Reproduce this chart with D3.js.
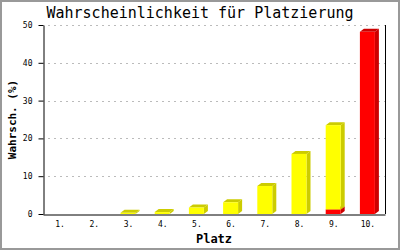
<!DOCTYPE html>
<html>
<head>
<meta charset="utf-8">
<script src="https://cdn.jsdelivr.net/npm/d3@7"></script>
<style>
	body { margin: 0; background: #fff; }
	svg { display: block; }
</style>
</head>
<body>
<div id="chart"></div>
<script>
///////////////////////////////////////////////////////////////////////////
//////////////////////////// data /////////////////////////////////////////
///////////////////////////////////////////////////////////////////////////

const places = ["1.", "2.", "3.", "4.", "5.", "6.", "7.", "8.", "9.", "10."];
// bottom segment (red), top segment (yellow)
const redValues = [0, 0, 0, 0, 0, 0, 0, 0, 1.2, 48.2];
const yellowValues = [0, 0, 0.3, 0.5, 1.7, 3.1, 7.4, 15.9, 22.3, 0];
const yTicks = [0, 10, 20, 30, 40, 50];

///////////////////////////////////////////////////////////////////////////
//////////////////////////// Set up svg ///////////////////////////////////
///////////////////////////////////////////////////////////////////////////

const width = 400;
const height = 250;
const margin = { top: 25, right: 15, bottom: 36, left: 43 };
const depthX = 4;
const depthY = 3;
const mono = "'DejaVu Sans Mono', monospace";

const svg = d3
	.select("#chart")
	.append("svg")
	.attr("width", width)
	.attr("height", height);

svg
	.append("rect")
	.attr("x", 1)
	.attr("y", 1)
	.attr("width", width - 2)
	.attr("height", height - 2)
	.attr("fill", "#fff")
	.attr("stroke", "#999")
	.attr("stroke-width", 2);

///////////////////////////////////////////////////////////////////////////
//////////////////////////// scales ///////////////////////////////////////
///////////////////////////////////////////////////////////////////////////

const xScale = d3
	.scaleBand()
	.domain(places)
	.range([margin.left, width - margin.right]);

const yScale = d3
	.scaleLinear()
	.domain([0, 50])
	.range([height - margin.bottom, margin.top]);

const barW = 15;

// grid
svg
	.append("g")
	.selectAll("line")
	.data(yTicks.filter((d) => d > 0))
	.enter()
	.append("line")
	.attr("x1", margin.left + 5)
	.attr("x2", width - margin.right)
	.attr("y1", (d) => Math.round(yScale(d)) + 0.5)
	.attr("y2", (d) => Math.round(yScale(d)) + 0.5)
	.attr("stroke", "#bbb")
	.attr("stroke-dasharray", "2,4");

///////////////////////////////////////////////////////////////////////////
//////////////////////////// bars /////////////////////////////////////////
///////////////////////////////////////////////////////////////////////////

const segments = [];
places.forEach((p, i) => {
	let base = 0;
	[
		{ v: redValues[i], front: "#ff0000", side: "#cc0000" },
		{ v: yellowValues[i], front: "#ffff00", side: "#cccc00" }
	].forEach((s) => {
		if (s.v > 0) {
			segments.push({ place: p, y0: base, y1: base + s.v, front: s.front, side: s.side });
			base += s.v;
		}
	});
});

const bars = svg.append("g");

segments.forEach((d) => {
	const x0 = xScale(d.place) + xScale.bandwidth() / 2 - barW / 2 - 0.5;
	const x1 = x0 + barW;
	const yb = yScale(d.y0);
	const yt = yScale(d.y1);
	// top face
	bars
		.append("polygon")
		.attr("points", [
			[x0, yt], [x0 + depthX, yt - depthY], [x1 + depthX, yt - depthY], [x1, yt]
		].join(" "))
		.attr("fill", d.side);
	// side face
	bars
		.append("polygon")
		.attr("points", [
			[x1, yt], [x1 + depthX, yt - depthY], [x1 + depthX, yb - depthY], [x1, yb]
		].join(" "))
		.attr("fill", d.side);
	// front
	bars
		.append("rect")
		.attr("x", x0)
		.attr("y", yt)
		.attr("width", barW)
		.attr("height", yb - yt)
		.attr("fill", d.front);
});

///////////////////////////////////////////////////////////////////////////
//////////////////////////// axes /////////////////////////////////////////
///////////////////////////////////////////////////////////////////////////

const yAxis = d3
	.axisLeft(yScale)
	.tickValues(yTicks)
	.tickSize(5)
	.tickSizeOuter(0)
	.tickPadding(6);

svg
	.append("g")
	.attr("transform", "translate(" + (margin.left + 0.5) + ",0)")
	.call(yAxis)
	.call((g) => g.selectAll("text").attr("font-family", mono).attr("font-size", 8).attr("fill", "#000"));

const xAxis = d3.axisBottom(xScale).tickSize(0).tickPadding(7);

svg
	.append("g")
	.attr("transform", "translate(0," + (yScale(0) + 0.5) + ")")
	.call(xAxis)
	.call((g) => g.selectAll("text").attr("font-family", mono).attr("font-size", 8).attr("fill", "#000"));

// right frame line
svg
	.append("line")
	.attr("x1", width - margin.right + 0.5)
	.attr("x2", width - margin.right + 0.5)
	.attr("y1", margin.top)
	.attr("y2", yScale(0))
	.attr("stroke", "#000");

///////////////////////////////////////////////////////////////////////////
//////////////////////////// labels ///////////////////////////////////////
///////////////////////////////////////////////////////////////////////////

svg
	.append("text")
	.attr("x", width / 2)
	.attr("y", 18)
	.attr("text-anchor", "middle")
	.attr("font-family", mono)
	.attr("font-size", 15)
	.text("Wahrscheinlichkeit für Platzierung");

svg
	.append("text")
	.attr("x", (margin.left + width - margin.right) / 2)
	.attr("y", 243)
	.attr("text-anchor", "middle")
	.attr("font-family", mono)
	.attr("font-weight", "bold")
	.attr("font-size", 12)
	.text("Platz");

svg
	.append("text")
	.attr("transform", "translate(16," + (yScale(25)) + ") rotate(-90)")
	.attr("text-anchor", "middle")
	.attr("font-family", mono)
	.attr("font-weight", "bold")
	.attr("font-size", 11)
	.text("Wahrsch. (%)");
</script>
</body>
</html>
